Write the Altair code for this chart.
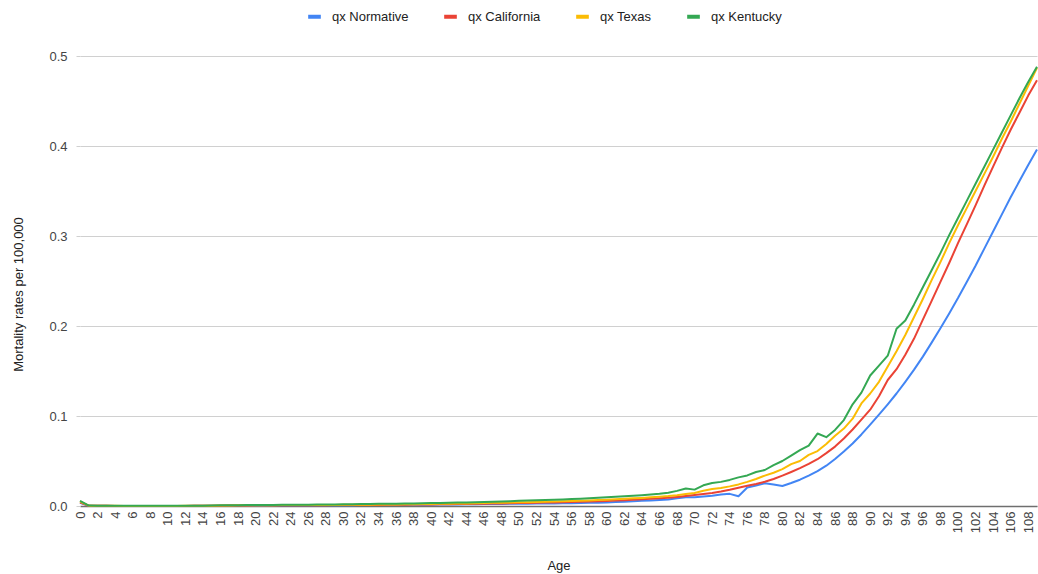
import altair as alt
import pandas as pd

# Mortality rate (qx) by single year of age, 0-109
ages = list(range(110))

qx_normative = [
    0.0035,
    0.0003, 0.0002, 0.00015, 0.00012, 0.0001, 0.0001, 0.0001, 0.0001, 0.0001,
    0.0001, 0.0001, 0.00012, 0.00015, 0.0002, 0.00028, 0.00036, 0.00044, 0.0005, 0.00056,
    0.0006, 0.00065, 0.0007, 0.0007, 0.00072, 0.00074, 0.00076, 0.0008, 0.00083, 0.00087,
    0.0009, 0.00094, 0.00098, 0.001, 0.00105, 0.0011, 0.00115, 0.0012, 0.0013, 0.0014,
    0.0015, 0.0016, 0.0017, 0.0018, 0.0019, 0.002, 0.0021, 0.0022, 0.0023, 0.0024,
    0.0025, 0.0026, 0.0027, 0.0028, 0.0029, 0.003, 0.0031, 0.0033, 0.0035, 0.0037,
    0.004, 0.0044, 0.0048, 0.0052, 0.0057, 0.0062, 0.0067, 0.0072, 0.0085, 0.0098,
    0.0097, 0.0105, 0.0115, 0.0128, 0.0135, 0.0108, 0.0205, 0.0228, 0.0252, 0.0238,
    0.0222, 0.0255, 0.0292, 0.0338, 0.0388, 0.0448, 0.0522, 0.0605, 0.0695, 0.0795,
    0.0905, 0.1015, 0.1130, 0.1250, 0.1380, 0.1515, 0.1660, 0.1815, 0.1975, 0.2140,
    0.2310, 0.2490, 0.2670, 0.2860, 0.3050, 0.3240, 0.3430, 0.3610, 0.3790, 0.3960,
]

qx_california = [
    0.004,
    0.0003, 0.0002, 0.00015, 0.00012, 0.0001, 0.0001, 0.0001, 0.0001, 0.0001,
    0.0001, 0.0001, 0.00012, 0.00016, 0.00022, 0.0003, 0.0004, 0.0005, 0.00058, 0.00064,
    0.0007, 0.00075, 0.0008, 0.0008, 0.00082, 0.00085, 0.00088, 0.0009, 0.00095, 0.001,
    0.00105, 0.0011, 0.00115, 0.0012, 0.00125, 0.0013, 0.0014, 0.0015, 0.0016, 0.0017,
    0.0018, 0.0019, 0.002, 0.0021, 0.0022, 0.0024, 0.0025, 0.0027, 0.0028, 0.003,
    0.0032, 0.0034, 0.0036, 0.0038, 0.004, 0.0042, 0.0045, 0.0047, 0.005, 0.0052,
    0.0055, 0.006, 0.0065, 0.007, 0.0075, 0.008, 0.0085, 0.0092, 0.0100, 0.0110,
    0.0122, 0.0133, 0.0144, 0.0160, 0.0180, 0.0203, 0.0224, 0.0245, 0.0270, 0.0300,
    0.0338, 0.0378, 0.0420, 0.0468, 0.0520, 0.0588, 0.0660, 0.0750, 0.0850, 0.0960,
    0.1070, 0.1220, 0.1400, 0.1520, 0.1680, 0.1860, 0.2070, 0.2280, 0.2490, 0.2700,
    0.2920, 0.3130, 0.3340, 0.3560, 0.3770, 0.3980, 0.4180, 0.4370, 0.4560, 0.4730,
]

qx_texas = [
    0.005,
    0.0004, 0.00025, 0.0002, 0.00015, 0.00012, 0.00012, 0.00011, 0.0001, 0.0001,
    0.0001, 0.00012, 0.00015, 0.0002, 0.00028, 0.00038, 0.0005, 0.0006, 0.0007, 0.00078,
    0.00085, 0.0009, 0.00095, 0.00098, 0.001, 0.00105, 0.0011, 0.00115, 0.0012, 0.00125,
    0.0013, 0.00135, 0.0014, 0.0015, 0.0016, 0.0017, 0.0018, 0.0019, 0.002, 0.0021,
    0.0023, 0.0024, 0.0026, 0.0027, 0.0029, 0.0031, 0.0033, 0.0035, 0.0037, 0.0039,
    0.0041, 0.0043, 0.0045, 0.0048, 0.005, 0.0053, 0.0056, 0.0059, 0.0062, 0.0066,
    0.007, 0.0075, 0.008, 0.0085, 0.009, 0.0096, 0.0103, 0.0110, 0.0120, 0.0133,
    0.0144, 0.0170, 0.0188, 0.0200, 0.0218, 0.0240, 0.0268, 0.0300, 0.0338, 0.0370,
    0.0410, 0.0465, 0.0500, 0.0568, 0.0610, 0.0690, 0.0780, 0.0860, 0.0970, 0.1140,
    0.1250, 0.1380, 0.1550, 0.1720, 0.1900, 0.2100, 0.2300, 0.2510, 0.2710, 0.2920,
    0.3120, 0.3310, 0.3500, 0.3690, 0.3880, 0.4080, 0.4270, 0.4470, 0.4670, 0.4870,
]

qx_kentucky = [
    0.0058,
    0.0005, 0.0003, 0.00025, 0.0002, 0.00018, 0.00016, 0.00015, 0.00014, 0.00014,
    0.00015, 0.00017, 0.0002, 0.00028, 0.0004, 0.0005, 0.0007, 0.0008, 0.0009, 0.001,
    0.0011, 0.0012, 0.0012, 0.0013, 0.0013, 0.0014, 0.0015, 0.0016, 0.0017, 0.0018,
    0.0019, 0.002, 0.0021, 0.0022, 0.0024, 0.0025, 0.0026, 0.0027, 0.0029, 0.003,
    0.0032, 0.0034, 0.0036, 0.0038, 0.004, 0.0042, 0.0045, 0.0048, 0.005, 0.0053,
    0.0058, 0.006, 0.0063, 0.0066, 0.0069, 0.0073, 0.0077, 0.0081, 0.0086, 0.0092,
    0.0098, 0.0103, 0.0108, 0.0114, 0.0120, 0.0127, 0.0135, 0.0148, 0.0168, 0.0195,
    0.0182, 0.0230, 0.0255, 0.0268, 0.0290, 0.0318, 0.0340, 0.0378, 0.0400, 0.0455,
    0.0500, 0.0560, 0.0620, 0.0670, 0.0805, 0.0765, 0.0845, 0.0955, 0.1130, 0.1260,
    0.1450, 0.1560, 0.1670, 0.1970, 0.2060, 0.2240, 0.2430, 0.2620, 0.2810, 0.3010,
    0.3200, 0.3390, 0.3580, 0.3770, 0.3960, 0.4150, 0.4340, 0.4530, 0.4710, 0.4880,
]

series_names = ["qx Normative", "qx California", "qx Texas", "qx Kentucky"]
series_colors = ["#4285F4", "#EA4335", "#FBBC04", "#34A853"]
series_values = [qx_normative, qx_california, qx_texas, qx_kentucky]

x_tick_values = list(range(0, 109, 2))
y_tick_values = [0.0, 0.1, 0.2, 0.3, 0.4, 0.5]

rows = []
for order, (name, values) in enumerate(zip(series_names, series_values)):
    for age, q in zip(ages, values):
        rows.append({"Age": age, "Series": name, "qx": q, "order": order})
df = pd.DataFrame(rows)

FONT = "Liberation Sans"

chart = (
    alt.Chart(df)
    .mark_line(strokeWidth=2, strokeJoin="round")
    .encode(
        x=alt.X(
            "Age:Q",
            scale=alt.Scale(domain=[0, 109], nice=False, zero=False),
            axis=alt.Axis(
                title="Age",
                values=x_tick_values,
                labelAngle=-90,
                labelPadding=5,
                ticks=False,
                grid=False,
                domainColor="#6f6f6f",
                domainWidth=1.5,
                labelOverlap=False,
                titleY=59,
                titleBaseline="middle",
            ),
        ),
        y=alt.Y(
            "qx:Q",
            scale=alt.Scale(domain=[0, 0.5], nice=False),
            axis=alt.Axis(
                title="Mortality rates per 100,000",
                values=y_tick_values,
                format=".1f",
                domain=False,
                ticks=True,
                tickSize=4,
                tickColor="#d0d0d0",
                gridColor="#d0d0d0",
                labelPadding=9,
                titleX=-62,
                titleY=238,
                titleAngle=-90,
                titleAlign="center",
                titleBaseline="middle",
            ),
        ),
        color=alt.Color(
            "Series:N",
            sort=series_names,
            scale=alt.Scale(domain=series_names, range=series_colors),
            legend=alt.Legend(
                title=None,
                orient="none",
                direction="horizontal",
                legendX=226,
                legendY=-48,
                symbolType="stroke",
                symbolSize=160,
                symbolStrokeWidth=4,
                labelFontSize=13,
                labelFont=FONT,
                labelColor="#222222",
                labelOffset=9,
                columnPadding=27,
            ),
        ),
        order=alt.Order("order:Q"),
    )
    .properties(
        width=957,
        height=450,
        padding={"left": 80, "top": 56, "right": 1, "bottom": 68},
        autosize=alt.AutoSizeParams(type="none"),
    )
    .configure_view(stroke=None)
    .configure_axis(
        labelFont=FONT,
        labelFontSize=13,
        labelColor="#444444",
        titleFont=FONT,
        titleFontSize=13,
        titleFontWeight="normal",
        titleColor="#222222",
    )
)

chart.save("out.html", embed_options={"renderer": "svg", "actions": False})
